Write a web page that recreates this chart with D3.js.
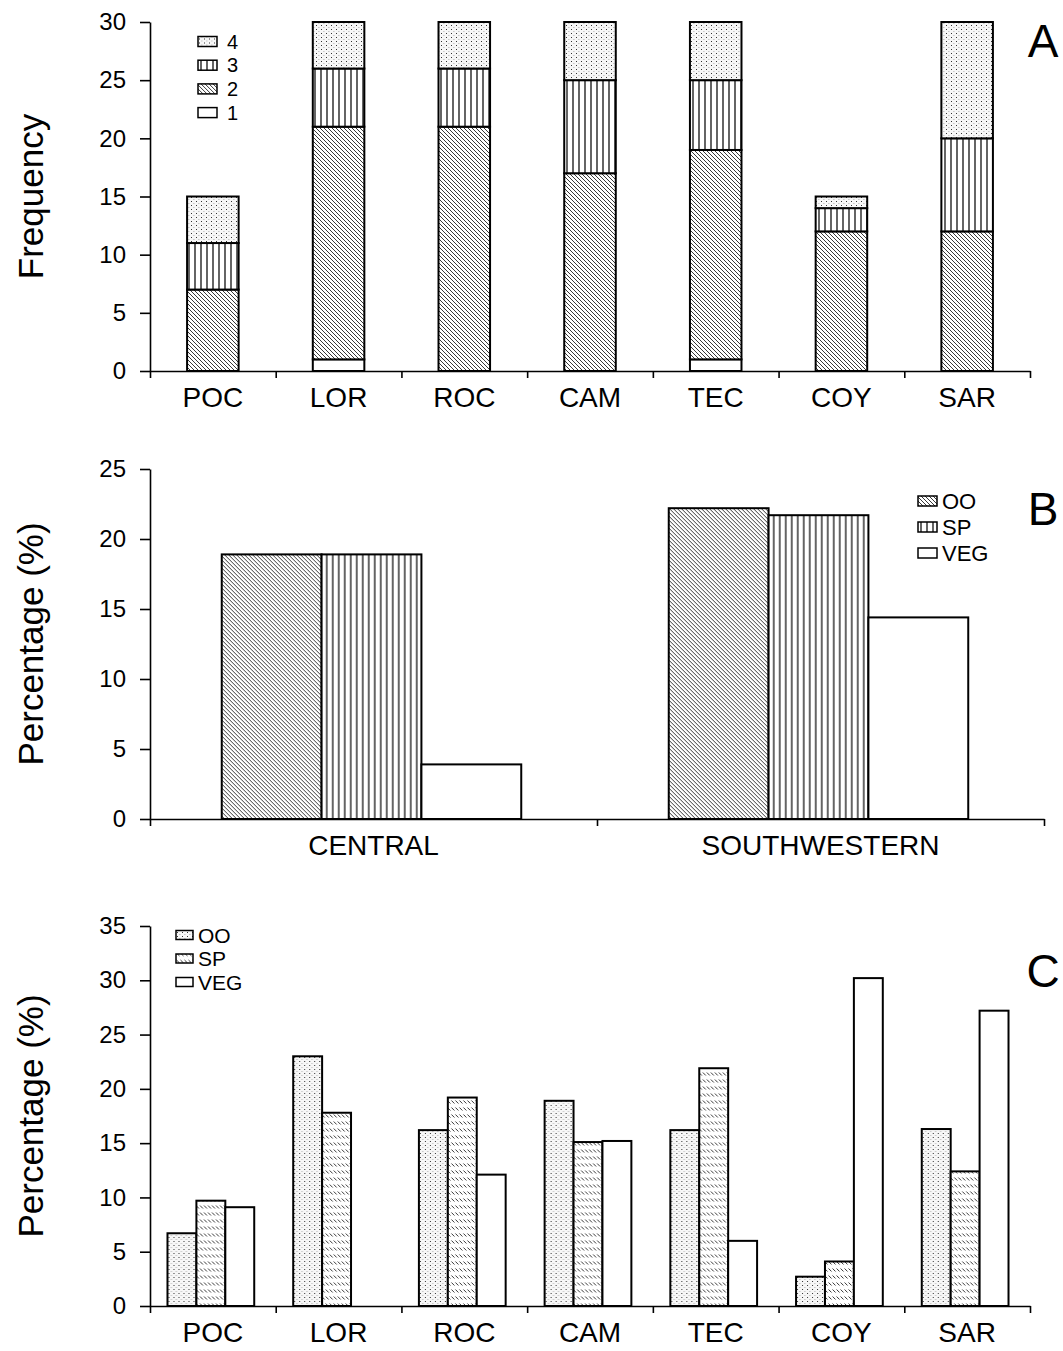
<!DOCTYPE html>
<html>
<head>
<meta charset="utf-8">
<script src="https://cdn.jsdelivr.net/npm/d3@7"></script>
<style>
  body { margin: 0; background: #fff; }
  svg { display: block; font-family: "Liberation Sans", Arial, sans-serif; }
</style>
</head>
<body>
<div id="chart"></div>
<script>
// panel A: frequency by site, stacked by class
const sites = ["POC", "LOR", "ROC", "CAM", "TEC", "COY", "SAR"];
const freqKeys = ["1", "2", "3", "4"];
const freq1 = [0, 1, 0, 0, 1, 0, 0];
const freq2 = [7, 20, 21, 17, 18, 12, 12];
const freq3 = [4, 5, 5, 8, 6, 2, 8];
const freq4 = [4, 4, 4, 5, 5, 1, 10];
const freqTicks = [0, 5, 10, 15, 20, 25, 30];

// panel B: percentage by region
const regions = ["CENTRAL", "SOUTHWESTERN"];
const pctKeys = ["OO", "SP", "VEG"];
const regionOO = [18.9, 22.2];
const regionSP = [18.9, 21.7];
const regionVEG = [3.9, 14.4];
const regionTicks = [0, 5, 10, 15, 20, 25];

// panel C: percentage by site
const siteOO = [6.7, 23.0, 16.2, 18.9, 16.2, 2.7, 16.3];
const siteSP = [9.7, 17.8, 19.2, 15.1, 21.9, 4.1, 12.4];
const siteVEG = [9.1, 0, 12.1, 15.2, 6.0, 30.2, 27.2];
const siteTicks = [0, 5, 10, 15, 20, 25, 30, 35];

const width = 1063, height = 1351;
const svg = d3.select("#chart").append("svg")
  .attr("width", width)
  .attr("height", height);

// hatch patterns
const defs = svg.append("defs");

const diag = defs.append("pattern").attr("id", "diag")
  .attr("patternUnits", "userSpaceOnUse").attr("width", 4).attr("height", 4);
diag.append("rect").attr("width", 4).attr("height", 4).attr("fill", "#fff");
diag.append("path").attr("d", "M-1,-1 L5,5 M-1,3 L1,5 M3,-1 L5,1")
  .attr("stroke", "#222").attr("stroke-width", 0.9);

const vert = defs.append("pattern").attr("id", "vert")
  .attr("patternUnits", "userSpaceOnUse").attr("width", 6).attr("height", 6);
vert.append("rect").attr("width", 6).attr("height", 6).attr("fill", "#fff");
vert.append("path").attr("d", "M3,0 L3,6").attr("stroke", "#111").attr("stroke-width", 1.3);

const dots = defs.append("pattern").attr("id", "dots")
  .attr("patternUnits", "userSpaceOnUse").attr("width", 5).attr("height", 4);
dots.append("rect").attr("width", 5).attr("height", 4).attr("fill", "#f7f7f7");
dots.append("rect").attr("x", 1).attr("y", 1).attr("width", 1).attr("height", 1).attr("fill", "#333");
dots.append("rect").attr("x", 3.5).attr("y", 3).attr("width", 0.8).attr("height", 0.8).attr("fill", "#888");

const dash = defs.append("pattern").attr("id", "dash")
  .attr("patternUnits", "userSpaceOnUse").attr("width", 4).attr("height", 7);
dash.append("rect").attr("width", 4).attr("height", 7).attr("fill", "#fff");
dash.append("path").attr("d", "M0.5,1.5 L3.5,4.5").attr("stroke", "#222").attr("stroke-width", 0.9);

const fillA = { "1": "#fff", "2": "url(#diag)", "3": "url(#vert)", "4": "url(#dots)" };
const fillB = { OO: "url(#diag)", SP: "url(#vert)", VEG: "#fff" };
const fillC = { OO: "url(#dots)", SP: "url(#dash)", VEG: "#fff" };

// shared axis drawing
function drawFrame(opts) {
  const { y, ticks, x0, x1, nBands, band, title, letter, letterY } = opts;
  const g = svg.append("g");

  const yAxis = g.append("g")
    .attr("transform", `translate(${x0},0)`)
    .call(d3.axisLeft(y).tickValues(ticks).tickSize(10).tickSizeOuter(0).tickPadding(14));
  yAxis.select(".domain").attr("stroke-width", 1.6);
  yAxis.selectAll(".tick line").attr("stroke-width", 1.6);
  yAxis.selectAll("text").attr("font-size", 24).attr("fill", "#000")
    .attr("font-family", "Liberation Sans, Arial, sans-serif");

  // boundary ticks along x
  const xEdge = d3.scaleLinear().domain([0, nBands]).range([x0, x1]);
  const xAxis = g.append("g")
    .attr("transform", `translate(0,${y(0)})`)
    .call(d3.axisBottom(xEdge).ticks(nBands).tickFormat("").tickSize(7).tickSizeOuter(0));
  xAxis.select(".domain").attr("stroke-width", 1.6);
  xAxis.selectAll(".tick line").attr("stroke-width", 1.6);

  const labels = g.append("g")
    .attr("transform", `translate(0,${y(0)})`)
    .call(d3.axisBottom(band).tickSize(0).tickPadding(16));
  labels.select(".domain").remove();
  labels.selectAll("text").attr("font-size", 28).attr("fill", "#000")
    .attr("font-family", "Liberation Sans, Arial, sans-serif");

  const [yb, yt] = y.range();
  g.append("text")
    .attr("transform", `translate(43,${(yb + yt) / 2}) rotate(-90)`)
    .attr("text-anchor", "middle")
    .attr("font-size", 35)
    .text(title);

  g.append("text")
    .attr("x", 1043).attr("y", letterY)
    .attr("text-anchor", "middle")
    .attr("font-size", 46)
    .text(letter);
  return g;
}

function drawLegend(keys, fills, lx, ly, step, sw, sh, fontSize, gap) {
  const lg = svg.append("g").attr("transform", `translate(${lx},${ly})`);
  const items = lg.selectAll("g").data(keys).join("g")
    .attr("transform", (d, i) => `translate(0,${i * step})`);
  items.append("rect")
    .attr("x", 0).attr("y", -sh / 2).attr("width", sw).attr("height", sh)
    .attr("fill", d => fills[d]).attr("stroke", "#000").attr("stroke-width", 1.5);
  items.append("text")
    .attr("x", sw + gap).attr("dy", "0.36em")
    .attr("font-size", fontSize)
    .text(d => d);
}

// ---------- Panel A ----------
{
  const y = d3.scaleLinear().domain([0, 30]).range([371, 22]);
  const x = d3.scaleBand().domain(sites).range([150, 1030]);
  drawFrame({ y, ticks: freqTicks, x0: 150, x1: 1030, nBands: sites.length, band: x,
    title: "Frequency", letter: "A", letterY: 57 });

  const rows = sites.map((s, i) => ({ site: s, "1": freq1[i], "2": freq2[i], "3": freq3[i], "4": freq4[i] }));
  const stacked = d3.stack().keys(freqKeys)(rows);
  const barW = x.bandwidth() * 0.41;

  svg.append("g").selectAll("g").data(stacked).join("g")
    .attr("fill", d => fillA[d.key])
    .selectAll("rect").data(d => d.filter(v => v[1] > v[0])).join("rect")
    .attr("x", d => x(d.data.site) + (x.bandwidth() - barW) / 2)
    .attr("y", d => y(d[1]))
    .attr("width", barW)
    .attr("height", d => y(d[0]) - y(d[1]))
    .attr("stroke", "#000").attr("stroke-width", 2);

  drawLegend(freqKeys.slice().reverse(), fillA, 198, 41.5, 23.7, 19, 10, 20, 10);
}

// ---------- Panel B ----------
{
  const y = d3.scaleLinear().domain([0, 25]).range([819, 469]);
  const x = d3.scaleBand().domain(regions).range([150, 1044]);
  drawFrame({ y, ticks: regionTicks, x0: 150, x1: 1044, nBands: regions.length, band: x,
    title: "Percentage (%)", letter: "B", letterY: 525 });

  const vals = { OO: regionOO, SP: regionSP, VEG: regionVEG };
  const groupW = x.bandwidth() * 0.67;
  const inner = d3.scaleBand().domain(pctKeys).range([0, groupW]);

  const groups = svg.append("g").selectAll("g").data(regions).join("g")
    .attr("transform", d => `translate(${x(d) + (x.bandwidth() - groupW) / 2 - 2},0)`);
  groups.selectAll("rect")
    .data((r, ri) => pctKeys.map(k => ({ key: k, value: vals[k][ri] })))
    .join("rect")
    .attr("x", d => inner(d.key))
    .attr("y", d => y(d.value))
    .attr("width", inner.bandwidth())
    .attr("height", d => y(0) - y(d.value))
    .attr("fill", d => fillB[d.key])
    .attr("stroke", "#000").attr("stroke-width", 2);

  drawLegend(pctKeys, fillB, 918, 501, 26, 19, 10, 22, 5);
}

// ---------- Panel C ----------
{
  const y = d3.scaleLinear().domain([0, 35]).range([1306, 926]);
  const x = d3.scaleBand().domain(sites).range([150, 1030]);
  drawFrame({ y, ticks: siteTicks, x0: 150, x1: 1030, nBands: sites.length, band: x,
    title: "Percentage (%)", letter: "C", letterY: 987 });

  const vals = { OO: siteOO, SP: siteSP, VEG: siteVEG };
  const groupW = x.bandwidth() * 0.69;
  const inner = d3.scaleBand().domain(pctKeys).range([0, groupW]);

  const groups = svg.append("g").selectAll("g").data(sites).join("g")
    .attr("transform", d => `translate(${x(d) + (x.bandwidth() - groupW) / 2 - 2},0)`);
  groups.selectAll("rect")
    .data((s, si) => pctKeys.map(k => ({ key: k, value: vals[k][si] })).filter(d => d.value > 0))
    .join("rect")
    .attr("x", d => inner(d.key))
    .attr("y", d => y(d.value))
    .attr("width", inner.bandwidth())
    .attr("height", d => y(0) - y(d.value))
    .attr("fill", d => fillC[d.key])
    .attr("stroke", "#000").attr("stroke-width", 2);

  drawLegend(pctKeys, fillC, 176, 935, 23.5, 17, 9, 21, 5);
}
</script>
</body>
</html>
